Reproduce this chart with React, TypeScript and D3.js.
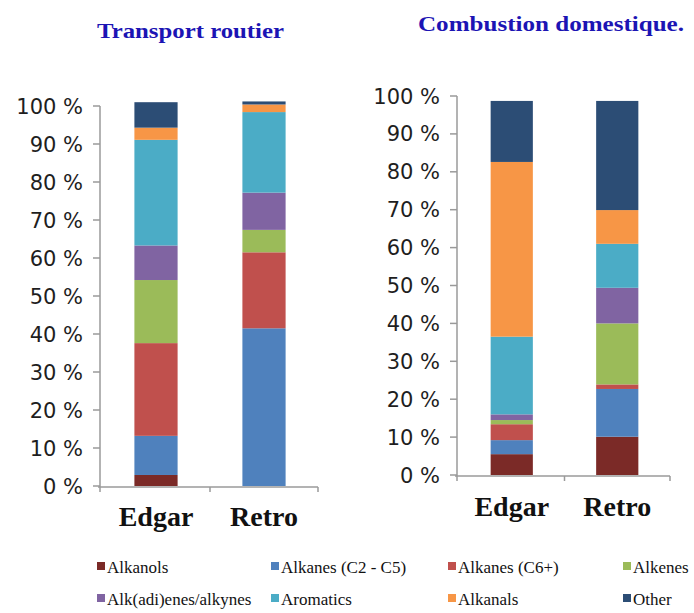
import React from "react";
import * as d3 from "d3";

const seriesNames = [
  "Alkanols",
  "Alkanes (C2 - C5)",
  "Alkanes (C6+)",
  "Alkenes",
  "Alk(adi)enes/alkynes",
  "Aromatics",
  "Alkanals",
  "Other",
];
const seriesColors = ["#7b2a27", "#4f81bd", "#c0504d", "#9bbb59", "#8064a2", "#4bacc6", "#f79646", "#2c4d75"];
const categories = ["Edgar", "Retro"];
const tickValues = [0, 10, 20, 30, 40, 50, 60, 70, 80, 90, 100];

const transportEdgar = [2.9, 10.3, 24.4, 16.6, 9.1, 27.8, 3.2, 6.7];
const transportRetro = [0, 41.5, 20.0, 5.9, 9.8, 21.2, 2.0, 0.8];
const domesticEdgar = [5.5, 3.7, 4.2, 1.1, 1.5, 20.5, 46.1, 16.1];
const domesticRetro = [10.1, 12.6, 1.2, 16.1, 9.4, 11.6, 8.9, 28.8];

const titles = ["Transport routier", "Combustion domestique."];

const SERIF = "'Liberation Serif', 'DejaVu Serif', serif";

type PanelProps = {
  values: number[][];
  axisX: number;
  xEnd: number;
  y0: number;
  y100: number;
  catBaseline: number;
};

function Panel({ values, axisX, xEnd, y0, y100, catBaseline }: PanelProps) {
  const rows = categories.map((c, i) => {
    const r: any = { cat: c };
    seriesNames.forEach((s, j) => (r[s] = values[i][j]));
    return r;
  });
  const stacked = d3.stack<any>().keys(seriesNames)(rows);
  const x = d3.scaleBand().domain(categories).range([axisX + 2, xEnd]).paddingInner(0.6).paddingOuter(0.3);
  const y = d3.scaleLinear().domain([0, 100]).range([y0, y100]);
  const xb = d3.scaleBand().domain(categories).range([axisX + 2, xEnd]);
  return (
    <g>
      {stacked.map((layer, j) => (
        <g key={j} fill={seriesColors[j]}>
          {layer.map((d, i) => {
            const h = y(d[0]) - y(d[1]);
            if (h <= 0) return null;
            return (
              <rect
                key={i}
                x={x(categories[i]) as number}
                width={x.bandwidth()}
                y={y(d[1])}
                height={h}
              />
            );
          })}
        </g>
      ))}
      <line x1={axisX} x2={axisX} y1={y(100)} y2={y(0) + 6} stroke="#9a9a9a" strokeWidth={1.5} />
      {tickValues.map((t) => (
        <g key={t}>
          <line x1={axisX - 7} x2={axisX} y1={y(t)} y2={y(t)} stroke="#9a9a9a" strokeWidth={1.5} />
          <text
            x={axisX - 17}
            y={y(t)}
            dy="0.36em"
            textAnchor="end"
            style={{ fontFamily: "'DejaVu Sans', sans-serif", fontSize: 21 }}
            fill="#1e1e1e"
          >
            {t} %
          </text>
        </g>
      ))}
      <line x1={axisX - 2} x2={xEnd} y1={y(0) + 1} y2={y(0) + 1} stroke="#9a9a9a" strokeWidth={1.5} />
      {categories.map((c) => (
        <line
          key={c}
          x1={(xb(c) as number) + xb.bandwidth()}
          x2={(xb(c) as number) + xb.bandwidth()}
          y1={y(0) + 1}
          y2={y(0) + 6}
          stroke="#9a9a9a"
          strokeWidth={1.5}
        />
      ))}
      {categories.map((c) => (
        <text
          key={c}
          x={(xb(c) as number) + xb.bandwidth() / 2}
          y={catBaseline}
          textAnchor="middle"
          style={{ fontFamily: SERIF, fontWeight: "bold", fontSize: 28 }}
          fill="#111"
        >
          {c}
        </text>
      ))}
    </g>
  );
}

const legendCols = [97, 271, 448, 623];
const legendRows = [573, 605];

export default function App() {
  return (
    <svg
      width={694}
      height={613}
      style={{ position: "absolute", left: 0, top: 0, background: "#fff" }}
    >
      <text
        x={97}
        y={38}
        style={{ fontFamily: SERIF, fontWeight: "bold", fontSize: 22 }}
        fill="#1c14b4"
        textLength={187}
        lengthAdjust="spacingAndGlyphs"
      >
        {titles[0]}
      </text>
      <text
        x={418}
        y={31}
        style={{ fontFamily: SERIF, fontWeight: "bold", fontSize: 22 }}
        fill="#1c14b4"
        textLength={266}
        lengthAdjust="spacingAndGlyphs"
      >
        {titles[1]}
      </text>
      <Panel
        values={[transportEdgar, transportRetro]}
        axisX={100}
        xEnd={318}
        y0={486}
        y100={106}
        catBaseline={526}
      />
      <Panel
        values={[domesticEdgar, domesticRetro]}
        axisX={457}
        xEnd={670}
        y0={475}
        y100={96}
        catBaseline={516}
      />
      {seriesNames.map((s, i) => {
        const cx = legendCols[i % 4];
        const cy = legendRows[Math.floor(i / 4)];
        return (
          <g key={s}>
            <rect x={cx} y={cy - 11} width={8} height={8} fill={seriesColors[i]} />
            <text x={cx + 10} y={cy} style={{ fontFamily: SERIF, fontSize: 17 }} fill="#111">
              {s}
            </text>
          </g>
        );
      })}
    </svg>
  );
}
